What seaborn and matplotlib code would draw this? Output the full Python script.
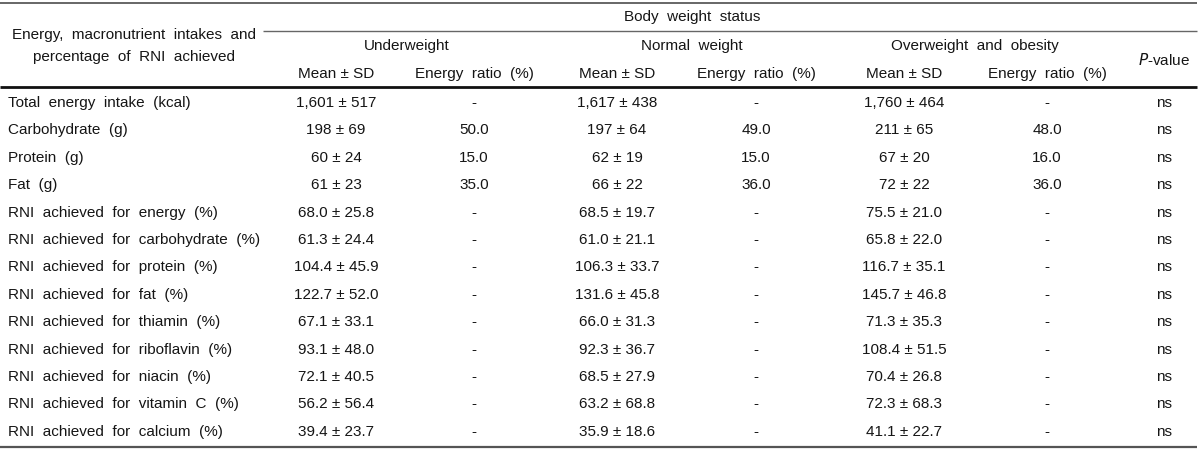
import matplotlib
matplotlib.use("Agg")
import matplotlib.pyplot as plt
import seaborn as sns

rows = [
    "Total energy intake (kcal)", "Carbohydrate (g)", "Protein (g)", "Fat (g)",
    "RNI achieved for energy (%)", "RNI achieved for carbohydrate (%)",
    "RNI achieved for protein (%)", "RNI achieved for fat (%)",
    "RNI achieved for thiamin (%)", "RNI achieved for riboflavin (%)",
    "RNI achieved for niacin (%)", "RNI achieved for vitamin C (%)",
    "RNI achieved for calcium (%)",
]
under_mean = [1601, 198, 60, 61, 68.0, 61.3, 104.4, 122.7, 67.1, 93.1, 72.1, 56.2, 39.4]
under_sd = [517, 69, 24, 23, 25.8, 24.4, 45.9, 52.0, 33.1, 48.0, 40.5, 56.4, 23.7]
under_ratio = [None, 50.0, 15.0, 35.0] + [None] * 9
normal_mean = [1617, 197, 62, 66, 68.5, 61.0, 106.3, 131.6, 66.0, 92.3, 68.5, 63.2, 35.9]
normal_sd = [438, 64, 19, 22, 19.7, 21.1, 33.7, 45.8, 31.3, 36.7, 27.9, 68.8, 18.6]
normal_ratio = [None, 49.0, 15.0, 36.0] + [None] * 9
over_mean = [1760, 211, 67, 72, 75.5, 65.8, 116.7, 145.7, 71.3, 108.4, 70.4, 72.3, 41.1]
over_sd = [464, 65, 20, 22, 21.0, 22.0, 35.1, 46.8, 35.3, 51.5, 26.8, 68.3, 22.7]
over_ratio = [None, 48.0, 16.0, 36.0] + [None] * 9
p_values = ["ns"] * 13

groups = ["Underweight", "Normal weight", "Overweight and obesity"]
sub_headers = ["Mean ± SD", "Energy ratio (%)"]

sns.set_theme(style="white")
plt.rcParams["font.family"] = ["Liberation Sans", "DejaVu Sans"]

fig = plt.figure(figsize=(12, 4.52), dpi=100)
ax = fig.add_axes([0, 0, 1, 1])
ax.set_xlim(0, 1200)
ax.set_ylim(452, 0)
ax.axis("off")

FS = 11
TC = "#151515"


def wide(s):
    # the reference typesetting uses wide word spacing
    return s.replace(" ", "  ")


def fmt_ms(m, s, i):
    if i < 4:
        return f"{m:,.0f} ± {s:,.0f}"
    return f"{m:.1f} ± {s:.1f}"


def fmt_ratio(r):
    return "-" if r is None else f"{r:.1f}"


def put(x, y, s, ha="center"):
    ax.text(x, y, s, ha=ha, va="center", fontsize=FS, color=TC)


# rules
ax.hlines(4, 0, 1197, color="#666666", lw=1.4)
ax.hlines(32, 263, 1197, color="#666666", lw=1.0)
ax.hlines(88, 0, 1197, color="#111111", lw=2.0)
ax.hlines(448, 0, 1197, color="#555555", lw=1.6)

# headers
put(134, 35, wide("Energy, macronutrient intakes and"))
put(134, 57, wide("percentage of RNI achieved"))
put(692, 17, wide("Body weight status"))
group_x = [407, 692, 975]
for gx, g in zip(group_x, groups):
    put(gx, 46, wide(g))
put(1164, 60, "$\\it{P}$-value")

mean_x = [336, 617, 904]
ratio_x = [474, 756, 1047]
for mx, rx in zip(mean_x, ratio_x):
    put(mx, 74, sub_headers[0])
    put(rx, 74, wide(sub_headers[1]))

series = [
    (under_mean, under_sd, under_ratio),
    (normal_mean, normal_sd, normal_ratio),
    (over_mean, over_sd, over_ratio),
]

y0, dy = 103, 27.4
for i, name in enumerate(rows):
    y = y0 + i * dy
    put(8, y, wide(name), ha="left")
    for (means, sds, ratios), mx, rx in zip(series, mean_x, ratio_x):
        put(mx, y, fmt_ms(means[i], sds[i], i))
        put(rx, y, fmt_ratio(ratios[i]))
    put(1164, y, p_values[i])

fig.savefig("out.png", dpi=100, facecolor="white")
